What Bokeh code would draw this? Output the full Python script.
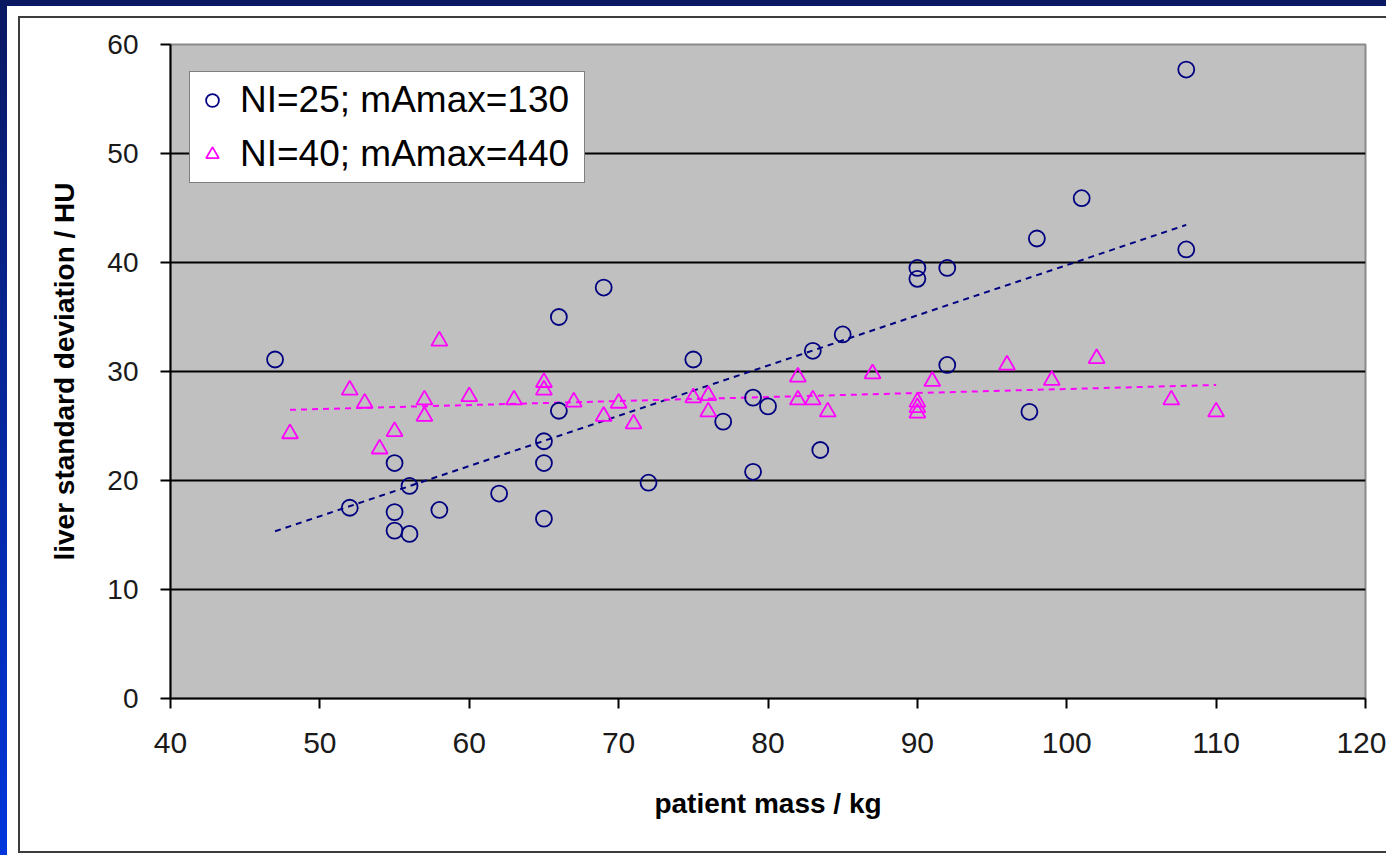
import numpy as np
from bokeh.plotting import figure
from bokeh.models import Legend, LegendItem, FixedTicker, Range1d
from bokeh.embed import file_html
from bokeh.resources import INLINE

# ---- data ----
series_names = ["NI=25; mAmax=130", "NI=40; mAmax=440"]

mass_ni25 = [47, 52, 55, 55, 55, 56, 56, 58, 62, 65, 65, 65, 66, 66, 69, 72, 75,
             77, 79, 79, 80, 83, 83.5, 85, 90, 90, 92, 92, 97.5, 98, 101, 108, 108]
sd_ni25 = [31.1, 17.5, 21.6, 17.1, 15.4, 19.5, 15.1, 17.3, 18.8, 23.6, 21.6, 16.5,
           26.4, 35.0, 37.7, 19.8, 31.1, 25.4, 27.6, 20.8, 26.8, 31.9, 22.8, 33.4,
           39.5, 38.5, 39.5, 30.6, 26.3, 42.2, 45.9, 57.7, 41.2]

mass_ni40 = [48, 52, 53, 54, 55, 57, 57, 58, 60, 63, 65, 65, 67, 69, 70, 71, 75,
             76, 76, 82, 82, 83, 84, 87, 90, 90, 90, 91, 96, 99, 102, 107, 110]
sd_ni40 = [24.3, 28.3, 27.1, 22.9, 24.5, 27.4, 25.9, 32.8, 27.7, 27.4, 29.0, 28.3,
           27.2, 25.9, 27.1, 25.2, 27.6, 27.8, 26.3, 29.5, 27.4, 27.4, 26.3, 29.8,
           27.2, 26.7, 26.2, 29.1, 30.6, 29.2, 31.2, 27.4, 26.3]

x_ticks = [40, 50, 60, 70, 80, 90, 100, 110, 120]
y_ticks = [0, 10, 20, 30, 40, 50, 60]

BLUE = "#000080"
MAGENTA = "#FF00FF"
FONT = "Liberation Sans"

p = figure(width=1386, height=855, x_range=Range1d(40, 120), y_range=Range1d(0, 60),
           output_backend="svg", toolbar_location=None,
           min_border_left=170, min_border_right=21, min_border_top=44, min_border_bottom=157)

# slide-like surround: blue band, white panel, dark chart frame (CSS behind a transparent canvas)
p.border_fill_color = None
p.styles = {
    "background": (
        "linear-gradient(#ffffff,#ffffff) 20px 18px / 1366px 833px no-repeat, "
        "linear-gradient(#3c3c3c,#3c3c3c) 18px 16px / 1368px 837px no-repeat, "
        "linear-gradient(#ffffff,#ffffff) 7px 6px / 1379px 849px no-repeat, "
        "linear-gradient(to bottom, #0a1862, #0036dc)"
    )
}

p.background_fill_color = "#C0C0C0"
p.outline_line_color = "#8a8a8a"
p.outline_line_width = 2

p.xgrid.visible = False
p.ygrid.ticker = FixedTicker(ticks=[10, 20, 30, 40, 50])
p.ygrid.grid_line_color = "black"
p.ygrid.grid_line_width = 2

p.xaxis.ticker = FixedTicker(ticks=x_ticks)
p.yaxis.ticker = FixedTicker(ticks=y_ticks)
for ax in (p.xaxis, p.yaxis):
    ax.axis_line_color = "black"
    ax.axis_line_width = 2
    ax.major_tick_line_color = "black"
    ax.major_tick_line_width = 2
    ax.major_tick_out = 10
    ax.major_tick_in = 0
    ax.minor_tick_line_color = None
    ax.major_label_text_font = FONT
    ax.major_label_text_color = "#1a1a1a"
    ax.axis_label_text_font = FONT
    ax.axis_label_text_font_style = "bold"
    ax.axis_label_text_color = "black"
    ax.axis_label_text_font_size = "28px"

p.xaxis.major_label_text_font_size = "30px"
p.yaxis.major_label_text_font_size = "28px"
p.xaxis.major_label_standoff = 24
p.yaxis.major_label_standoff = 22
p.xaxis.axis_label = "patient mass / kg"
p.yaxis.axis_label = "liver standard deviation / HU"
p.xaxis.axis_label_standoff = 32
p.yaxis.axis_label_standoff = 24

# trend lines (least squares fits of the data)
def trend(xs, ys):
    k, b = np.polyfit(xs, ys, 1)
    x0, x1 = min(xs), max(xs)
    return [x0, x1], [k * x0 + b, k * x1 + b]

tx, ty = trend(mass_ni25, sd_ni25)
p.line(tx, ty, line_color=BLUE, line_width=2, line_dash="6 5")
tx, ty = trend(mass_ni40, sd_ni40)
p.line(tx, ty, line_color=MAGENTA, line_width=2, line_dash="6 5")

r1 = p.scatter(mass_ni25, sd_ni25, marker="circle", size=16, line_color=BLUE,
               fill_color=None, line_width=1.8)
r2 = p.scatter(mass_ni40, sd_ni40, marker="triangle", size=16, line_color=MAGENTA,
               fill_color=None, line_width=1.8)

legend = Legend(items=[LegendItem(label=series_names[0], renderers=[r1]),
                       LegendItem(label=series_names[1], renderers=[r2])],
                location=(19, 515), orientation="vertical")
legend.margin = 0
legend.padding = 6
legend.spacing = 10
legend.glyph_width = 32
legend.glyph_height = 44
legend.label_height = 44
legend.label_width = 338
legend.label_standoff = 12
legend.label_text_font = FONT
legend.label_text_font_size = "37px"
legend.label_text_color = "black"
legend.border_line_color = "black"
legend.border_line_width = 1.5
legend.background_fill_color = "white"
legend.background_fill_alpha = 1.0
p.add_layout(legend, "center")

open("out.html", "w").write(file_html(p, INLINE))
